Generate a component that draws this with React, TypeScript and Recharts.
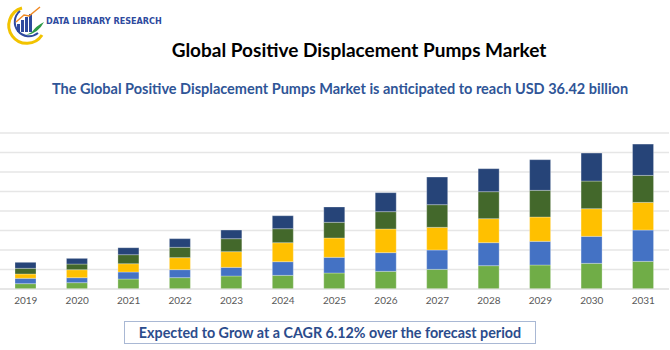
import { BarChart, Bar, XAxis, YAxis, CartesianGrid } from "recharts";

const years = ["2019", "2020", "2021", "2022", "2023", "2024", "2025", "2026", "2027", "2028", "2029", "2030", "2031"];
const segA = [1.37, 1.62, 2.56, 2.91, 3.33, 3.5, 4.1, 4.53, 5.04, 5.98, 6.15, 6.58, 7.09];
const segB = [1.37, 1.28, 1.79, 2.05, 2.22, 3.5, 4.02, 4.79, 4.96, 5.9, 6.07, 6.92, 8.03];
const segC = [1.11, 2.05, 2.14, 3.08, 4.02, 4.87, 4.96, 6.07, 5.81, 6.15, 6.24, 7.09, 7.09];
const segD = [1.45, 1.45, 2.31, 2.65, 3.33, 3.59, 4.02, 4.44, 5.81, 6.92, 6.84, 7.09, 6.92];
const segE = [1.54, 1.45, 1.79, 2.22, 2.22, 3.33, 3.93, 4.87, 7.09, 5.9, 7.86, 7.18, 8.03];
const yTicks = [0, 5, 10, 15, 20, 25, 30, 35, 40];

const data = years.map((year, i) => ({
  year,
  a: segA[i],
  b: segB[i],
  c: segC[i],
  d: segD[i],
  e: segE[i],
}));

const series = [
  { key: "a", color: "#70AD47" },
  { key: "b", color: "#4472C4" },
  { key: "c", color: "#FFC000" },
  { key: "d", color: "#43682B" },
  { key: "e", color: "#264478" },
];

function Logo() {
  return (
    <svg width={44} height={44} style={{ position: "absolute", left: 4, top: 2 }}>
      <path d="M 38 33 A 18 18 0 1 1 18 6" fill="none" stroke="#F2C300" strokeWidth={3} />
      <path d="M 34 31 A 14 14 0 1 1 16 9" fill="none" stroke="#2E4A9E" strokeWidth={2} />
      <rect x={13} y={22} width={3} height={8} fill="#2E4A9E" />
      <rect x={17} y={18} width={3} height={12} fill="#2E4A9E" />
      <rect x={21} y={15} width={3} height={15} fill="#2E4A9E" />
      <rect x={25} y={12} width={3} height={18} fill="#2E4A9E" />
      <path d="M 12 20 L 20 13 L 25 14 L 36 5" fill="none" stroke="#F08A24" strokeWidth={1.5} />
      <path d="M 22 33 Q 34 32 40 20 Q 32 24 28 30" fill="#2E9A47" />
    </svg>
  );
}

export default function App() {
  return (
    <div
      style={{
        position: "absolute",
        left: 0,
        top: 0,
        width: 670,
        height: 350,
        background: "#ffffff",
        fontFamily: "Lato, 'Open Sans', sans-serif",
        overflow: "hidden",
      }}
    >
      <Logo />
      <div
        style={{
          position: "absolute",
          left: 46,
          top: 16,
          fontFamily: "'DejaVu Sans Condensed', 'DejaVu Sans', sans-serif",
          fontWeight: 700,
          fontSize: 9,
          color: "#2E4A9E",
          whiteSpace: "nowrap",
        }}
      >
        DATA LIBRARY RESEARCH
      </div>
      <div
        style={{
          position: "absolute",
          left: 0,
          width: 718,
          top: 38,
          textAlign: "center",
          fontWeight: 700,
          fontSize: 19,
          color: "#000000",
          whiteSpace: "nowrap",
        }}
      >
        Global Positive Displacement Pumps Market
      </div>
      <div
        style={{
          position: "absolute",
          left: 0,
          width: 680,
          top: 80,
          textAlign: "center",
          fontWeight: 700,
          fontSize: 14.5,
          color: "#2F5597",
          whiteSpace: "nowrap",
        }}
      >
        The Global Positive Displacement Pumps Market is anticipated to reach USD 36.42 billion
      </div>
      <div style={{ position: "absolute", left: 0, top: 0 }}>
        <BarChart
          width={670}
          height={320}
          data={data}
          margin={{ top: 133, right: 1, bottom: 11, left: 0 }}
          barSize={21}
        >
          <CartesianGrid vertical={false} stroke="#e6e6e6" strokeWidth={1.5} />
          <XAxis
            dataKey="year"
            tickLine={false}
            axisLine={{ stroke: "#e0e0e0" }}
            tick={{ fontSize: 10, fill: "#595959", fontFamily: "Lato, 'Open Sans', sans-serif" }}
            height={20}
            interval={0}
          />
          <YAxis hide domain={[0, 40]} ticks={yTicks} interval={0} />
          {series.map((s) => (
            <Bar
              key={s.key}
              dataKey={s.key}
              stackId="total"
              fill={s.color}
              stroke="#ffffff"
              strokeOpacity={0.35}
              strokeWidth={0.8}
              isAnimationActive={false}
            />
          ))}
        </BarChart>
      </div>
      <div
        style={{
          position: "absolute",
          left: 124,
          top: 321,
          width: 410,
          height: 21,
          border: "1px solid #A9B8D4",
          textAlign: "center",
          lineHeight: "21px",
          fontWeight: 700,
          fontSize: 14.3,
          color: "#2B4C8C",
          whiteSpace: "nowrap",
        }}
      >
        Expected to Grow at a CAGR 6.12% over the forecast period
      </div>
    </div>
  );
}
